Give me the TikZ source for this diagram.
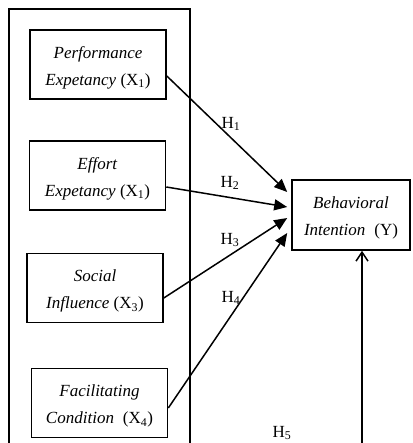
\documentclass[tikz,border=0pt]{standalone}
\usepackage{fontspec}
\setmainfont{Liberation Serif}
\usetikzlibrary{arrows.meta}
\newcommand\topstrutx{\rule{0pt}{18pt}}
\begin{document}
\begin{tikzpicture}[x=1pt,y=-1pt,
  varbox/.style={draw,line width=1.6pt,minimum width=136pt,minimum height=69pt,
    inner sep=0pt,align=center,font=\fontsize{17}{27}\selectfont},
  hlabel/.style={font=\fontsize{17}{18}\selectfont,inner sep=0pt},
  path/.style={line width=1.5pt,-{Triangle[length=13pt,width=11pt]}},
  frame/.style={line width=1.2pt}]
\useasboundingbox (0,0) rectangle (412,443);
\draw[frame] (9,443) -- (9,9) -- (190,9) -- (190,443);
\node[varbox] (pe) at (98,64.5) {\topstrutx\textit{Performance}\\\textit{Expetancy} (X\textsubscript{1})};
\node[varbox] (ee) at (97.5,175.5) {\topstrutx\textit{Effort}\\\textit{Expetancy} (X\textsubscript{1})};
\node[varbox] (si) at (95,288) {\topstrutx\textit{Social}\\\textit{Influence} (X\textsubscript{3})};
\node[varbox] (fc) at (99.5,403) {\topstrutx\textit{Facilitating}\\\textit{Condition}\; (X\textsubscript{4})};
\node[varbox,minimum width=118pt,minimum height=70pt] (bi) at (351,215) {\topstrutx\textit{Behavioral}\\\textit{Intention}\; (Y)};
\draw[path] ([yshift=-11.5pt]pe.east) -- ([xshift=-4pt,yshift=23pt]bi.west);
\draw[path] ([yshift=-11.5pt]ee.east) -- ([xshift=-4pt,yshift=8pt]bi.west);
\draw[path] ([yshift=-10pt]si.east) -- ([xshift=-4pt,yshift=-3pt]bi.west);
\draw[path] ([yshift=-5pt]fc.east) -- ([xshift=-4pt,yshift=-18pt]bi.west);
\coordinate (h5s) at (362,443);
\draw[line width=1.5pt,-{Straight Barb[length=9pt,width=12pt]}] (h5s) -- (h5s |- bi.south);
\node[hlabel] (l1) at (231,124) {H\textsubscript{1}};
\node[hlabel] (l2) at (230,183) {H\textsubscript{2}};
\node[hlabel] (l3) at (230,240) {H\textsubscript{3}};
\node[hlabel] (l4) at (231,298) {H\textsubscript{4}};
\node[hlabel] (l5) at (282,433) {H\textsubscript{5}};
\end{tikzpicture}
\end{document}
